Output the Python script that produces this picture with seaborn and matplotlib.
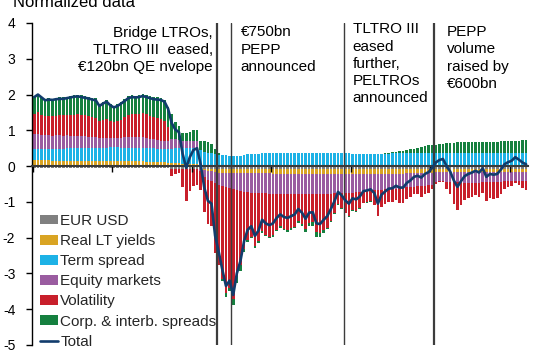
import matplotlib
matplotlib.use("Agg")
import matplotlib.pyplot as plt
import numpy as np
import pandas as pd
import seaborn as sns
from matplotlib.lines import Line2D
from matplotlib.patches import Patch

# ----------------------------------------------------------------------------
# Data (daily contributions, business days from 1 Jan 2020)
# ----------------------------------------------------------------------------
eur_usd = [
    -0.05, -0.05, -0.05, -0.05, -0.05, -0.05, -0.05, -0.05, -0.05, -0.05,
    -0.05, -0.05, -0.05, -0.05, -0.05, -0.05, -0.05, -0.05, -0.05, -0.05,
    -0.05, -0.05, -0.05, -0.05, -0.05, -0.05, -0.05, -0.05, -0.05, -0.05,
    -0.05, -0.05, -0.05, -0.06, -0.06, -0.06, -0.06, -0.06, -0.07, -0.07,
    -0.07, -0.07, -0.08, -0.08, -0.07, -0.07, -0.08, -0.08, -0.08, -0.08,
    -0.08, -0.08, -0.08, -0.08, -0.08, -0.08, -0.08, -0.08, -0.08, -0.08,
    -0.08, -0.08, -0.08, -0.08, -0.08, -0.08, -0.08, -0.08, -0.08, -0.08,
    -0.08, -0.08, -0.08, -0.08, -0.08, -0.08, -0.08, -0.08, -0.08, -0.08,
    -0.08, -0.08, -0.08, -0.08, -0.08, -0.08, -0.08, -0.08, -0.08, -0.08,
    -0.08, -0.08, -0.08, -0.08, -0.08, -0.08, -0.08, -0.08, -0.08, -0.08,
    -0.08, -0.08, -0.08, -0.08, -0.08, -0.08, -0.08, -0.08, -0.08, -0.08,
    -0.08, -0.07, -0.07, -0.07, -0.07, -0.07, -0.07, -0.07, -0.07, -0.07,
    -0.07, -0.07, -0.07, -0.07, -0.07, -0.07, -0.07, -0.07, -0.07, -0.07,
    -0.07, -0.07, -0.07, -0.07, -0.07, -0.07, -0.07,
]
real_lt_yields = [
    0.16, 0.17, 0.16, 0.16, 0.16, 0.15, 0.15, 0.15, 0.15, 0.15,
    0.15, 0.15, 0.15, 0.15, 0.14, 0.14, 0.14, 0.14, 0.14, 0.14,
    0.14, 0.14, 0.14, 0.14, 0.14, 0.14, 0.13, 0.13, 0.13, 0.13,
    0.13, 0.12, 0.12, 0.12, 0.12, 0.11, 0.11, 0.10, 0.09, 0.08,
    0.08, 0.07, 0.06, 0.06, 0.05, 0.05, 0.03, -0.03, -0.05, -0.06,
    -0.08, -0.10, -0.10, -0.11, -0.12, -0.12, -0.12, -0.12, -0.12, -0.12,
    -0.12, -0.12, -0.12, -0.12, -0.12, -0.12, -0.13, -0.13, -0.13, -0.13,
    -0.13, -0.13, -0.13, -0.14, -0.14, -0.14, -0.14, -0.14, -0.14, -0.14,
    -0.14, -0.14, -0.14, -0.14, -0.14, -0.14, -0.14, -0.14, -0.14, -0.14,
    -0.14, -0.13, -0.13, -0.13, -0.13, -0.13, -0.13, -0.13, -0.13, -0.13,
    -0.13, -0.13, -0.13, -0.12, -0.12, -0.12, -0.12, -0.12, -0.12, -0.11,
    -0.11, -0.10, -0.09, -0.09, -0.09, -0.09, -0.09, -0.09, -0.09, -0.09,
    -0.09, -0.09, -0.09, -0.09, -0.09, -0.09, -0.09, -0.09, -0.09, -0.09,
    -0.09, -0.09, -0.09, -0.09, -0.09, -0.09, -0.09,
]
term_spread = [
    0.31, 0.31, 0.32, 0.32, 0.33, 0.33, 0.33, 0.34, 0.34, 0.35,
    0.35, 0.35, 0.36, 0.36, 0.37, 0.37, 0.37, 0.37, 0.38, 0.38,
    0.38, 0.39, 0.39, 0.39, 0.38, 0.38, 0.38, 0.38, 0.38, 0.38,
    0.38, 0.38, 0.38, 0.38, 0.37, 0.37, 0.37, 0.37, 0.40, 0.42,
    0.43, 0.44, 0.45, 0.45, 0.46, 0.46, 0.42, 0.40, 0.38, 0.36,
    0.33, 0.32, 0.31, 0.30, 0.28, 0.27, 0.27, 0.29, 0.31, 0.33,
    0.34, 0.34, 0.35, 0.36, 0.36, 0.37, 0.37, 0.37, 0.37, 0.37,
    0.38, 0.38, 0.38, 0.38, 0.38, 0.38, 0.38, 0.38, 0.37, 0.37,
    0.37, 0.37, 0.37, 0.37, 0.37, 0.37, 0.36, 0.36, 0.35, 0.35,
    0.34, 0.34, 0.34, 0.34, 0.34, 0.35, 0.35, 0.35, 0.35, 0.36,
    0.36, 0.36, 0.36, 0.36, 0.36, 0.36, 0.36, 0.36, 0.36, 0.36,
    0.36, 0.37, 0.37, 0.38, 0.38, 0.38, 0.38, 0.38, 0.38, 0.38,
    0.38, 0.38, 0.37, 0.37, 0.37, 0.37, 0.37, 0.36, 0.36, 0.36,
    0.36, 0.36, 0.36, 0.36, 0.36, 0.36, 0.36,
]
equity_markets = [
    0.42, 0.42, 0.40, 0.38, 0.38, 0.37, 0.38, 0.37, 0.36, 0.36,
    0.35, 0.34, 0.33, 0.33, 0.32, 0.31, 0.30, 0.29, 0.27, 0.27,
    0.27, 0.25, 0.25, 0.26, 0.27, 0.28, 0.29, 0.30, 0.30, 0.30,
    0.30, 0.29, 0.27, 0.25, 0.23, 0.22, 0.22, 0.22, 0.28, 0.25,
    0.22, 0.20, 0.20, 0.20, 0.20, 0.18, -0.05, -0.20, -0.25, -0.28,
    -0.32, -0.35, -0.38, -0.40, -0.42, -0.45, -0.48, -0.50, -0.52, -0.53,
    -0.54, -0.55, -0.55, -0.56, -0.56, -0.57, -0.57, -0.58, -0.58, -0.58,
    -0.58, -0.58, -0.58, -0.57, -0.57, -0.57, -0.56, -0.56, -0.56, -0.56,
    -0.55, -0.55, -0.55, -0.54, -0.53, -0.53, -0.53, -0.52, -0.52, -0.51,
    -0.50, -0.49, -0.48, -0.47, -0.46, -0.46, -0.45, -0.44, -0.44, -0.43,
    -0.42, -0.41, -0.40, -0.39, -0.38, -0.37, -0.36, -0.35, -0.35, -0.34,
    -0.33, -0.28, -0.27, -0.27, -0.28, -0.28, -0.28, -0.29, -0.29, -0.30,
    -0.30, -0.30, -0.30, -0.30, -0.29, -0.29, -0.29, -0.28, -0.28, -0.28,
    -0.27, -0.27, -0.26, -0.26, -0.26, -0.26, -0.26,
]
volatility = [
    0.58, 0.62, 0.56, 0.53, 0.54, 0.55, 0.55, 0.56, 0.57, 0.57,
    0.58, 0.60, 0.61, 0.60, 0.59, 0.58, 0.56, 0.55, 0.47, 0.50,
    0.53, 0.47, 0.44, 0.46, 0.51, 0.56, 0.62, 0.64, 0.64, 0.65,
    0.67, 0.66, 0.64, 0.63, 0.63, 0.62, 0.56, 0.40, -0.20, -0.15,
    -0.11, -0.50, -0.90, -0.62, -0.48, -0.45, -0.55, -0.98, -1.25, -1.24,
    -1.95, -2.24, -2.60, -2.96, -2.78, -3.07, -2.39, -2.06, -1.61, -1.33,
    -1.23, -1.49, -1.35, -1.06, -1.16, -1.21, -1.15, -0.99, -0.89, -0.96,
    -1.00, -0.95, -0.90, -0.74, -0.82, -0.96, -0.80, -0.79, -1.07, -1.09,
    -1.02, -0.95, -0.76, -0.56, -0.32, -0.42, -0.55, -0.65, -0.49, -0.53,
    -0.45, -0.33, -0.32, -0.30, -0.41, -0.72, -0.49, -0.42, -0.35, -0.37,
    -0.32, -0.40, -0.42, -0.33, -0.29, -0.22, -0.22, -0.30, -0.22, -0.22,
    -0.13, -0.05, -0.02, -0.01, -0.20, -0.35, -0.61, -0.79, -0.63, -0.48,
    -0.43, -0.40, -0.34, -0.39, -0.29, -0.53, -0.45, -0.48, -0.46, -0.35,
    -0.21, -0.16, -0.13, -0.04, -0.11, -0.20, -0.25,
]
corp_interb_spreads = [
    0.48, 0.50, 0.50, 0.48, 0.49, 0.48, 0.50, 0.50, 0.50, 0.51,
    0.53, 0.54, 0.55, 0.54, 0.54, 0.54, 0.54, 0.54, 0.47, 0.51,
    0.53, 0.50, 0.47, 0.48, 0.50, 0.51, 0.53, 0.53, 0.52, 0.52,
    0.53, 0.53, 0.54, 0.55, 0.57, 0.59, 0.60, 0.57, 0.70, 0.49,
    0.40, 0.21, 0.22, 0.24, 0.29, 0.33, 0.25, 0.29, 0.28, 0.25,
    0.15, 0.05, -0.05, -0.10, -0.08, -0.15, -0.20, -0.18, -0.08, -0.05,
    -0.05, -0.05, -0.05, -0.04, -0.04, -0.04, -0.04, -0.04, -0.04, -0.04,
    -0.04, -0.04, -0.04, -0.05, -0.07, -0.10, -0.10, -0.10, -0.12, -0.12,
    -0.08, -0.05, -0.04, -0.03, -0.02, -0.02, -0.02, -0.02, -0.02, -0.02,
    -0.02, -0.01, -0.01, -0.01, -0.01, -0.01, 0.00, 0.01, 0.02, 0.03,
    0.04, 0.06, 0.07, 0.09, 0.11, 0.13, 0.15, 0.17, 0.19, 0.22,
    0.24, 0.23, 0.25, 0.25, 0.26, 0.26, 0.27, 0.28, 0.28, 0.28,
    0.29, 0.30, 0.30, 0.30, 0.31, 0.31, 0.31, 0.32, 0.32, 0.33,
    0.33, 0.34, 0.34, 0.35, 0.35, 0.36, 0.36,
]
total = [
    1.93, 2.00, 1.92, 1.84, 1.86, 1.85, 1.87, 1.88, 1.88, 1.90,
    1.92, 1.94, 1.95, 1.93, 1.91, 1.89, 1.86, 1.84, 1.68, 1.75,
    1.80, 1.70, 1.64, 1.68, 1.75, 1.82, 1.90, 1.93, 1.92, 1.93,
    1.96, 1.93, 1.90, 1.87, 1.86, 1.85, 1.80, 1.60, 1.20, 1.02,
    0.95, 0.35, -0.05, 0.25, 0.45, 0.50, 0.05, -0.60, -0.97, -1.05,
    -1.95, -2.40, -2.90, -3.35, -3.20, -3.60, -3.00, -2.65, -2.10, -1.78,
    -1.68, -1.95, -1.80, -1.50, -1.60, -1.65, -1.60, -1.45, -1.35, -1.42,
    -1.45, -1.40, -1.35, -1.20, -1.30, -1.47, -1.30, -1.29, -1.60, -1.62,
    -1.50, -1.40, -1.20, -0.98, -0.72, -0.82, -0.96, -1.05, -0.90, -0.93,
    -0.85, -0.70, -0.68, -0.65, -0.75, -1.05, -0.80, -0.71, -0.63, -0.62,
    -0.55, -0.60, -0.60, -0.47, -0.40, -0.30, -0.27, -0.32, -0.22, -0.17,
    -0.05, 0.10, 0.17, 0.20, 0.00, -0.15, -0.40, -0.58, -0.42, -0.28,
    -0.22, -0.18, -0.13, -0.18, -0.06, -0.30, -0.22, -0.24, -0.22, -0.10,
    0.05, 0.11, 0.15, 0.25, 0.18, 0.10, 0.05,
]

series_names = ["EUR USD", "Real LT yields", "Term spread",
                "Equity markets", "Volatility", "Corp. & interb. spreads"]
series_values = [eur_usd, real_lt_yields, term_spread,
                 equity_markets, volatility, corp_interb_spreads]
series_colors = ["#808080", "#D9A423", "#1DB2E6", "#9A5CA0", "#C81F2B", "#15803F"]
total_color = "#113C6C"

start_date = "2020-01-01"
tick_step = 22
tick_labels = ["01/2020", "02/2020", "03/2020", "04/2020",
               "05/2020", "06/2020", "07/2020"]

event_dates = ["2020-03-12", "2020-03-18", "2020-04-30", "2020-06-04"]
event_texts = [
    "Bridge LTROs,\nTLTRO III  eased,\n€120bn QE nvelope",
    "€750bn\nPEPP\nannounced",
    "TLTRO III\neased\nfurther,\nPELTROs\nannounced",
    "PEPP\nvolume\nraised by\n€600bn",
]

Y_MIN, Y_MAX = -5, 4


def main():
    sns.set_theme(style="white")
    plt.rcParams["font.family"] = ["Liberation Sans", "DejaVu Sans"]
    plt.rcParams["axes.unicode_minus"] = False

    n = len(total)
    idx = np.arange(n)
    dates = pd.bdate_range(start_date, periods=n)

    fig = plt.figure(figsize=(5.53, 3.6), dpi=100)
    ax = fig.add_axes([32 / 553, 15 / 360, 496.3 / 553, 322 / 360])

    # stacked bars, positives and negatives stacked separately
    pos_base = np.zeros(n)
    neg_base = np.zeros(n)
    for name, values, color in zip(series_names, series_values, series_colors):
        vals = np.asarray(values, dtype=float)
        bottom = np.where(vals >= 0, pos_base, neg_base)
        sns.barplot(x=idx, y=vals, bottom=bottom, color=color, saturation=1,
                    width=0.72, errorbar=None, linewidth=0, ax=ax)
        pos_base += np.clip(vals, 0, None)
        neg_base += np.clip(vals, None, 0)

    sns.lineplot(x=idx, y=total, color=total_color, linewidth=1.9,
                 ax=ax, zorder=4)

    # policy announcement lines
    widths = [1.6, 1.0, 1.0, 1.6]
    for d, lw in zip(event_dates, widths):
        pos = dates.get_loc(pd.Timestamp(d)) - 0.5
        ax.axvline(pos, color="#3c3c3c", linewidth=lw, zorder=3)

    # axes styling
    tick_pos = np.arange(0, n, tick_step) - 0.5
    ax.set_xlim(-0.64, 136.6)
    ax.set_ylim(Y_MIN, Y_MAX)
    ax.set_yticks(range(Y_MIN, Y_MAX + 1))
    ax.set_xticks(tick_pos, tick_labels)
    ax.set_xlabel("")
    ax.set_ylabel("")
    for side in ["top", "right", "bottom"]:
        ax.spines[side].set_visible(False)
    ax.spines["left"].set_color("black")
    ax.spines["left"].set_linewidth(1.0)
    ax.tick_params(axis="y", left=True, direction="out", length=4, width=1,
                   color="black", labelsize=10, labelcolor="black", pad=8)
    ax.tick_params(axis="x", bottom=False, length=0, pad=10.6, labelsize=10,
                   labelcolor="black")

    # zero line with tick marks
    zero_axis = ax.secondary_xaxis((0 - Y_MIN) / (Y_MAX - Y_MIN))
    zero_axis.set_xticks(tick_pos)
    zero_axis.tick_params(axis="x", direction="in", length=4, width=1,
                          color="black", labeltop=False, labelbottom=False)
    for side in ["top", "bottom"]:
        zero_axis.spines[side].set_color("#3a3a3a")
        zero_axis.spines[side].set_linewidth(1.5)
    zero_axis.set_zorder(3.5)

    # annotations
    text_kw = dict(fontsize=11, va="top", linespacing=1.3, color="black")
    fig.text(212.7 / 553, 1 - 25.5 / 360, event_texts[0], ha="right", **text_kw)
    fig.text(240.7 / 553, 1 - 25.5 / 360, event_texts[1], ha="left", **text_kw)
    fig.text(352.7 / 553, 1 - 22.3 / 360, event_texts[2], ha="left", **text_kw)
    fig.text(446.7 / 553, 1 - 25.0 / 360, event_texts[3], ha="left", **text_kw)

    fig.text(13 / 553, 1 - 6.7 / 360, "Normalized data", fontsize=12,
             va="baseline", ha="left", color="black")

    # legend
    handles = [Patch(facecolor=c, edgecolor="none", label=nm)
               for nm, c in zip(series_names, series_colors)]
    handles.append(Line2D([], [], color=total_color, linewidth=1.9, label="Total"))
    fig.legend(handles=handles, loc="upper left",
               bbox_to_anchor=(40 / 553, 1 - 214 / 360), frameon=False,
               fontsize=11, handlelength=1.15, handleheight=0.6,
               handletextpad=0.18, labelspacing=0.40, borderpad=0,
               borderaxespad=0)

    fig.savefig("out.png", dpi=100)
    plt.close(fig)


if __name__ == "__main__":
    main()
